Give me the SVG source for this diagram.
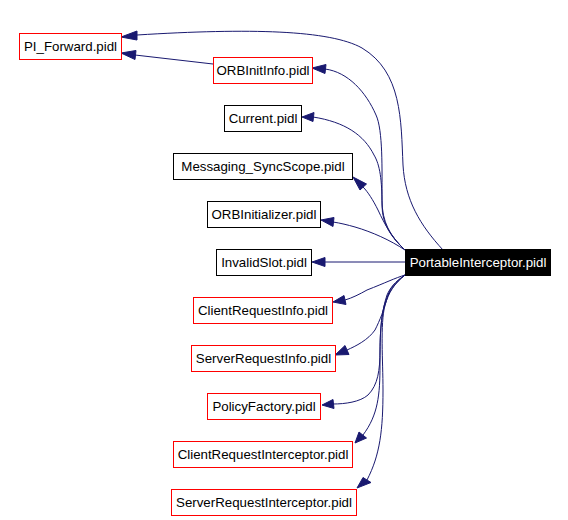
<svg xmlns="http://www.w3.org/2000/svg" width="568" height="520" viewBox="0 0 568 520">
<style>
.n rect{fill:#fff;stroke:#000;stroke-width:1}
.n.r rect{stroke:#ff0000}
.n text{font-family:"Liberation Sans",Arial,sans-serif;font-size:13.3px;fill:#000;text-anchor:middle}
.n.m rect{fill:#000;stroke:#000}
.n.m text{fill:#fff}
.e path{fill:none;stroke:#191970;stroke-width:1}
.e polygon{fill:#191970;stroke:#191970;stroke-width:1}
</style>
<rect width="568" height="520" fill="#fff"/>
<g id="edges" class="e">
<path d="M443,250 C420,225 405,200 403,165 C401,120 402,72 362,48 C330,30 250,28 137,35"/>
<polygon points="137,31 121,37 137,40"/>
<path d="M213,64 L135,55"/>
<polygon points="136,50.5 121,53 135,59.5"/>
<path d="M405,250 C390,236 382,222 382,200 C382,170 383,130 376,115 C366,92 348,72 325,69"/>
<polygon points="326,64.5 312,68 325,73.5"/>
<path d="M405,250 C392,238 382,225 382,205 C382,180 380,165 374,155 C364,135 345,122 313,117"/>
<polygon points="314,112.5 302,117 313,121.5"/>
<path d="M405,250 C392,238 385,225 378,210 C373,200 368,192 363,187"/>
<polygon points="366.5,184 353,177 360,190"/>
<path d="M405,250 C390,240 372,232 355,227 C348,225 340,223 333,222"/>
<polygon points="334,217.5 321,220 333,226.5"/>
<path d="M405,262 L325,262"/>
<polygon points="325,257.5 312,262 325,266.5"/>
<path d="M405,275 C395,278 385,283 367,290 C360,294 352,298 345,300"/>
<polygon points="344,295.5 333,302 346,304.5"/>
<path d="M405,275 C395,282 390,288 388,295 C384,310 380,320 375,330 C368,340 356,346 347,350"/>
<polygon points="345,345.5 335,355 349,354.5"/>
<path d="M405,275 C395,282 390,288 387,295 C382,310 380,330 380,350 C380,370 378,385 368,395 C360,402 345,404 333,404"/>
<polygon points="333,399.5 322,405 334,408.5"/>
<path d="M405,275 C395,283 390,290 386,300 C380,315 380,340 380,365 C380,395 378,415 363,435"/>
<polygon points="359,432 355,443 366.5,438"/>
<path d="M405,275 C394,284 389,292 385,305 C380,325 383,360 383,390 C383,430 380,455 367,480"/>
<polygon points="363,477.5 357,488 371,482.5"/>
</g>
<g id="PI_Forward" class="n r"><rect x="19.5" y="33.5" width="102" height="26"/><text x="70.5" y="51">PI_Forward.pidl</text></g>
<g id="ORBInitInfo" class="n r"><rect x="213.5" y="57.5" width="99" height="26"/><text x="263" y="75">ORBInitInfo.pidl</text></g>
<g id="Current" class="n"><rect x="224.5" y="105.5" width="77" height="26"/><text x="263" y="123">Current.pidl</text></g>
<g id="Messaging_SyncScope" class="n"><rect x="173.5" y="153.5" width="179" height="26"/><text x="263" y="171">Messaging_SyncScope.pidl</text></g>
<g id="ORBInitializer" class="n"><rect x="207.5" y="201.5" width="113" height="26"/><text x="264" y="219">ORBInitializer.pidl</text></g>
<g id="InvalidSlot" class="n"><rect x="216.5" y="249.5" width="95" height="26"/><text x="264" y="267">InvalidSlot.pidl</text></g>
<g id="PortableInterceptor" class="n m"><rect x="405.5" y="249.5" width="145" height="26"/><text x="478" y="267">PortableInterceptor.pidl</text></g>
<g id="ClientRequestInfo" class="n r"><rect x="193.5" y="297.5" width="139" height="26"/><text x="263" y="315">ClientRequestInfo.pidl</text></g>
<g id="ServerRequestInfo" class="n r"><rect x="191.5" y="345.5" width="144" height="26"/><text x="263.5" y="363">ServerRequestInfo.pidl</text></g>
<g id="PolicyFactory" class="n r"><rect x="207.5" y="393.5" width="113" height="26"/><text x="264" y="411">PolicyFactory.pidl</text></g>
<g id="ClientRequestInterceptor" class="n r"><rect x="173.5" y="441.5" width="179" height="26"/><text x="263" y="459">ClientRequestInterceptor.pidl</text></g>
<g id="ServerRequestInterceptor" class="n r"><rect x="171.5" y="489.5" width="185" height="26"/><text x="264" y="507">ServerRequestInterceptor.pidl</text></g>
</svg>
